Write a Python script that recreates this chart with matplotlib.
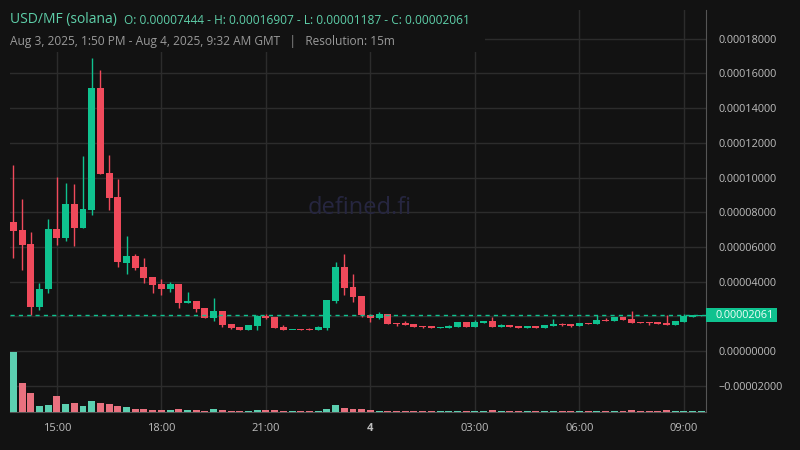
import matplotlib
matplotlib.use("Agg")
import matplotlib.pyplot as plt
import matplotlib.dates as mdates
from matplotlib.patches import Rectangle
from matplotlib.transforms import blended_transform_factory
import numpy as np
import pandas as pd

BG = "#121212"
GRID = "#2c2c2c"
UP = "#0fc28f"
DOWN = "#f04a5b"
VOL_UP = "#5ccfb0"
VOL_DOWN = "#e8717f"
TXT = "#bdbdbd"

plt.rcParams["font.family"] = ["Open Sans", "DejaVu Sans"]

# 15m candles, Aug 3 13:45 -> Aug 4 09:30 (prices in units of 1e-5)
start = "2025-08-03 13:45"
opens = [7.444, 6.97, 6.17, 2.55, 3.56, 7.03, 6.53, 8.47, 7.11, 8.14,
         15.16, 10.26, 8.88, 5.09, 5.48, 4.84, 4.27, 3.86, 3.59, 3.86,
         2.78, 2.88, 2.48, 1.92, 2.31, 1.56, 1.38, 1.19, 1.46, 2.00,
         1.96, 1.38, 1.19, 1.23, 1.23, 1.19, 1.34, 2.90, 4.84, 3.69,
         3.17, 2.06, 1.92, 2.13, 1.61, 1.61, 1.56, 1.44, 1.44, 1.34,
         1.34, 1.40, 1.67, 1.40, 1.61, 1.73, 1.40, 1.50, 1.44, 1.34,
         1.44, 1.33, 1.46, 1.56, 1.56, 1.44, 1.61, 1.56, 1.79, 1.73,
         1.96, 1.84, 1.67, 1.67, 1.67, 1.61, 1.50, 1.67, 1.96, 2.04]
highs = [10.72, 8.76, 6.86, 3.94, 7.61, 10.05, 9.68, 9.63, 11.24, 16.907,
         16.20, 11.30, 9.91, 6.63, 5.59, 5.36, 4.27, 4.13, 3.98, 3.86,
         3.40, 2.88, 2.48, 3.05, 2.31, 1.56, 1.38, 1.50, 2.08, 2.13,
         1.96, 1.50, 1.21, 1.29, 1.33, 1.44, 2.94, 5.13, 5.59, 4.44,
         3.17, 2.13, 2.25, 2.13, 1.61, 1.73, 1.56, 1.44, 1.44, 1.40,
         1.50, 1.67, 1.67, 1.79, 1.73, 1.96, 1.56, 1.50, 1.44, 1.44,
         1.44, 1.50, 1.84, 1.61, 1.56, 1.61, 1.61, 2.08, 1.90, 1.96,
         1.96, 2.31, 1.67, 1.67, 1.67, 2.08, 1.73, 2.13, 2.08, 2.10]
lows = [5.38, 4.67, 2.08, 2.36, 3.36, 6.11, 6.34, 6.07, 7.11, 7.86,
        10.22, 8.13, 4.86, 4.42, 4.69, 3.94, 3.36, 3.25, 3.42, 2.50,
        2.75, 2.25, 1.92, 1.75, 1.40, 1.27, 1.187, 1.19, 1.23, 1.86,
        1.34, 1.19, 1.19, 1.19, 1.19, 1.19, 1.19, 2.78, 3.25, 2.84,
        1.94, 1.69, 1.86, 1.57, 1.46, 1.52, 1.40, 1.34, 1.33, 1.34,
        1.34, 1.40, 1.40, 1.40, 1.61, 1.40, 1.40, 1.40, 1.34, 1.34,
        1.34, 1.33, 1.46, 1.44, 1.38, 1.44, 1.56, 1.56, 1.73, 1.73,
        1.79, 1.61, 1.61, 1.50, 1.56, 1.50, 1.50, 1.67, 1.96, 2.02]
closes = [6.92, 6.11, 2.55, 3.57, 7.03, 6.53, 8.47, 7.11, 8.18, 15.16,
          10.22, 8.84, 5.15, 5.48, 4.80, 4.23, 3.82, 3.59, 3.84, 2.78,
          2.88, 2.44, 1.92, 2.31, 1.52, 1.34, 1.19, 1.50, 2.03, 1.92,
          1.34, 1.19, 1.21, 1.19, 1.19, 1.37, 2.94, 4.84, 3.65, 3.13,
          2.06, 1.92, 2.13, 1.57, 1.57, 1.52, 1.40, 1.40, 1.33, 1.38,
          1.44, 1.67, 1.40, 1.67, 1.73, 1.40, 1.50, 1.40, 1.34, 1.44,
          1.34, 1.50, 1.56, 1.50, 1.44, 1.61, 1.56, 1.79, 1.73, 1.96,
          1.79, 1.61, 1.61, 1.61, 1.56, 1.50, 1.73, 2.02, 2.08, 2.061]
volumes = [1200, 575, 375, 115, 135, 315, 155, 175, 115, 215,
           175, 155, 115, 95, 55, 55, 35, 35, 35, 55,
           35, 35, 15, 55, 35, 15, 15, 15, 35, 35,
           35, 15, 15, 15, 15, 15, 55, 135, 75, 55,
           55, 35, 15, 15, 15, 15, 15, 15, 15, 15,
           15, 15, 15, 15, 15, 35, 15, 15, 15, 15,
           15, 15, 15, 15, 15, 15, 15, 15, 15, 15,
           15, 35, 15, 15, 15, 35, 15, 15, 15, 15]
last_price = 2.061

tick_times = ["2025-08-03 15:00", "2025-08-03 18:00", "2025-08-03 21:00",
              "2025-08-04 00:00", "2025-08-04 03:00", "2025-08-04 06:00",
              "2025-08-04 09:00"]
tick_labels = ["15:00", "18:00", "21:00", "4", "03:00", "06:00", "09:00"]
price_ticks = [-2, 0, 2, 4, 6, 8, 10, 12, 14, 16, 18]

title = "USD/MF (solana)"
ohlc_text = "O: 0.00007444 - H: 0.00016907 - L: 0.00001187 - C: 0.00002061"
subtitle = "Aug 3, 2025, 1:50 PM - Aug 4, 2025, 9:32 AM GMT   |   Resolution: 15m"

scale = 1e-5
times = pd.date_range(start, periods=len(opens), freq="15min")
x = mdates.date2num(times.to_pydatetime())
step = 15 / 1440.0
o = np.array(opens) * scale
h = np.array(highs) * scale
l = np.array(lows) * scale
c = np.array(closes) * scale
up = c >= o

fig = plt.figure(figsize=(8, 4.5), dpi=100, facecolor=BG)
W, H = 800, 450
ax = fig.add_axes([10 / W, (H - 411.7) / H, 696 / W, 401.7 / H], facecolor=BG)
ax2 = ax.twinx()  # volume overlay (created first: twinx resets tick side)

ymin = (351 - 411.7) * 5.764e-7
ymax = (351 - 10) * 5.764e-7
ax.set_ylim(ymin, ymax)
ax.set_xlim(x[0] - 0.38 * step, x[-1] + 0.53 * step)

min_body = 0.06 * scale
for xi, oi, hi, li, ci, u in zip(x, o, h, l, c, up):
    col = UP if u else DOWN
    ax.vlines(xi, li, hi, color=col, linewidth=1, zorder=3)
    bot = min(oi, ci)
    ht = max(abs(ci - oi), min_body)
    ax.add_patch(Rectangle((xi - 0.4 * step, bot), 0.8 * step, ht,
                           facecolor=col, edgecolor="none", zorder=4))

ax.axhline(last_price * scale, color=UP, linestyle=(0, (3, 3)), linewidth=1, zorder=5)

# grid / axes; the 0.00002 label sits under the last-price tag
ax.set_yticks([v * scale for v in price_ticks])
ax.set_yticklabels(["" if v == 2 else f"{v * scale:.8f}".replace("-", "\u2212")
                    for v in price_ticks])
ax.yaxis.tick_right()
ax.set_xticks(mdates.date2num(pd.to_datetime(tick_times).to_pydatetime()))
ax.set_xticklabels(tick_labels)
for lbl in ax.get_xticklabels():
    if lbl.get_text() == "4":
        lbl.set_color("#eeeeee")
        lbl.set_fontweight("bold")
ax.tick_params(axis="y", length=0, pad=9, labelcolor=TXT, labelsize=7.8)
ax.tick_params(axis="x", length=0, pad=8, labelcolor=TXT, labelsize=8)
ax.grid(True, color=GRID, linewidth=1)
ax.set_axisbelow(True)
for side in ["top", "left"]:
    ax.spines[side].set_visible(False)
for side in ["right", "bottom"]:
    ax.spines[side].set_color("#555555")

ax2.set_ylim(0, max(volumes) * 401.7 / 60)
vcols = [VOL_UP if u else VOL_DOWN for u in up]
vcols[0] = VOL_UP
ax2.bar(x, volumes, width=0.8 * step, color=vcols, zorder=2)
ax2.set_axis_off()
ax2.set_xlim(ax.get_xlim())

# last price tag on the axis
tr = blended_transform_factory(ax.transAxes, ax.transData)
ax.add_patch(Rectangle((1.0, last_price * scale - 7 * 5.764e-7), 71 / 696, 14 * 5.764e-7,
                       transform=tr, facecolor=UP, edgecolor="none", clip_on=False, zorder=6))
ax.text(1.0 + 10 / 696, last_price * scale, f"{last_price * scale:.8f}", transform=tr,
        ha="left", va="center", color="#f0fff9", fontsize=7.8, zorder=7, clip_on=False)

# watermark
ax.text(0.502, 0.508, "defined.fi", transform=ax.transAxes, ha="center", va="center",
        color="#262640", fontsize=17, zorder=1)

# legend block over the grid
fig.add_artist(Rectangle((0, (H - 52) / H), 485 / W, 52 / H, transform=fig.transFigure,
                         facecolor=BG, edgecolor="none", zorder=5))
t1 = fig.text(10 / W, 1 - 20 / H, title, color="#5ecfa9", fontsize=10,
              va="center", ha="left", zorder=6)
fig.canvas.draw()
bb = t1.get_window_extent()
fig.text((bb.x1 + 7) / W, 1 - 20 / H, ohlc_text, color="#5ecfa9", fontsize=8.6,
         va="center", ha="left", zorder=6)
fig.text(10 / W, 1 - 41 / H, subtitle, color="#9a9a9a", fontsize=8.6,
         va="center", ha="left", zorder=6)

fig.savefig("out.png", dpi=100, facecolor=BG)
